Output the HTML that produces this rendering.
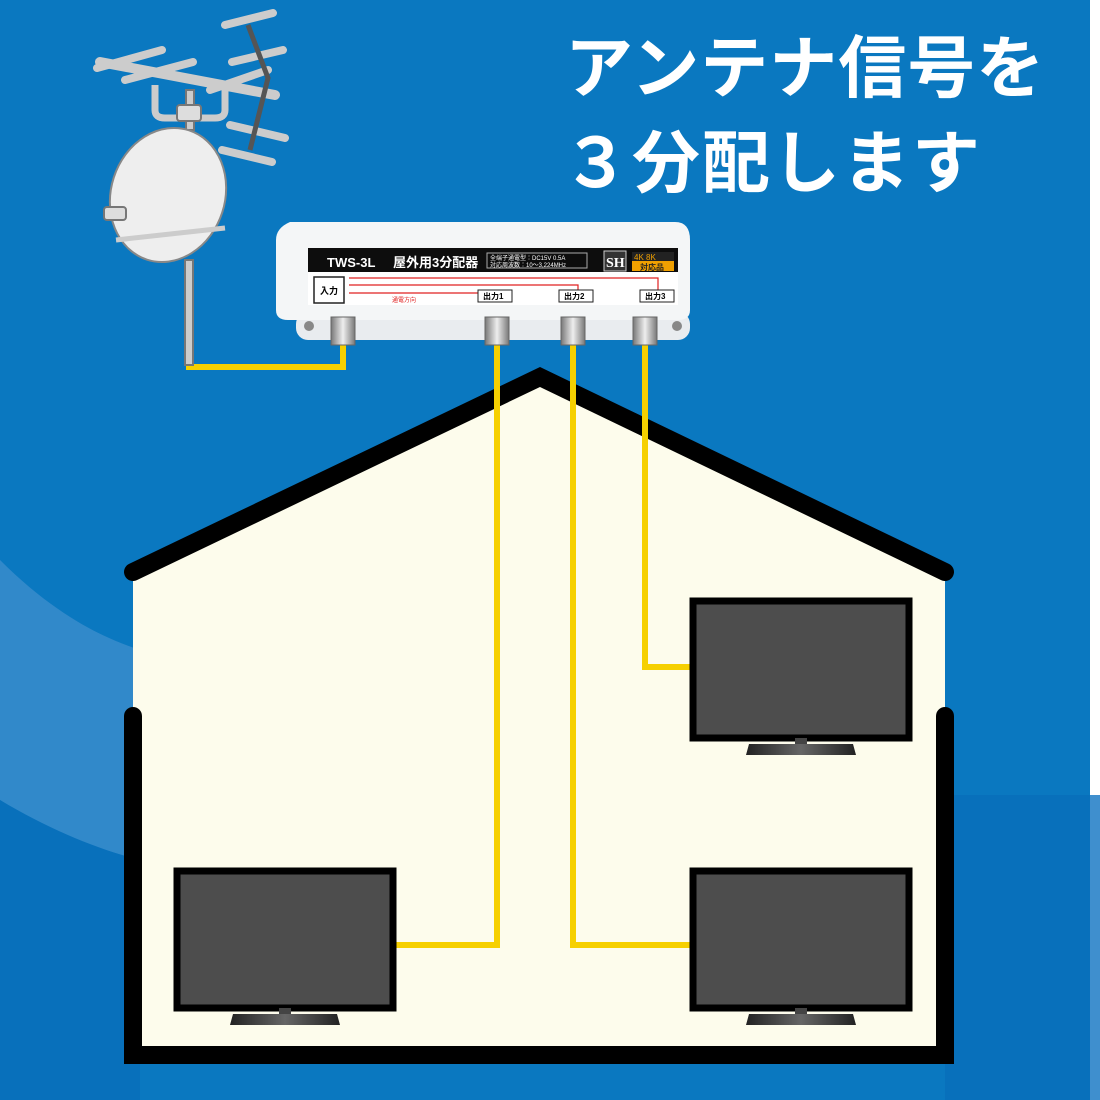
<!DOCTYPE html>
<html><head><meta charset="utf-8"><style>
html,body{margin:0;padding:0;width:1100px;height:1100px;overflow:hidden;background:#0a78c0}
</style></head><body>
<svg width="1100" height="1100" viewBox="0 0 1100 1100" xmlns="http://www.w3.org/2000/svg" style="display:block">
<defs>
<linearGradient id="base" x1="0" x2="1"><stop offset="0" stop-color="#222"/><stop offset="0.5" stop-color="#666"/><stop offset="1" stop-color="#222"/></linearGradient>
<linearGradient id="conn" x1="0" x2="1"><stop offset="0" stop-color="#777"/><stop offset="0.5" stop-color="#eee"/><stop offset="1" stop-color="#777"/></linearGradient>
</defs>
<rect width="1100" height="1100" fill="#0a78c0"/>
<path d="M0,560 C60,620 110,640 140,650 L140,860 C80,845 30,820 0,800 Z" fill="#3f8fce" opacity="0.75"/>
<path d="M0,800 C50,830 100,850 140,860 L140,1100 L0,1100 Z" fill="#0870bb"/>
<rect x="945" y="795" width="155" height="305" fill="#0870bb"/>
<rect x="1090" y="0" width="10" height="795" fill="#ffffff"/>
<rect x="1090" y="795" width="10" height="305" fill="#3f8fce"/>

<!-- title -->
<text x="565" y="92" font-family="'Liberation Sans','Noto Sans CJK JP',sans-serif" font-size="68" font-weight="bold" fill="#fff" letter-spacing="1">アンテナ信号を</text>
<text x="562" y="187" font-family="'Liberation Sans','Noto Sans CJK JP',sans-serif" font-size="68" font-weight="bold" fill="#fff" letter-spacing="2">３分配します</text>

<!-- house -->
<path d="M133,572 L540,377 L945,572 L945,1055 L133,1055 Z" fill="#fdfcec"/>
<polyline points="133,572 540,377 945,572" fill="none" stroke="#000" stroke-width="18" stroke-linecap="round" stroke-linejoin="miter"/>
<polyline points="133,716 133,1055 945,1055 945,716" fill="none" stroke="#000" stroke-width="18" stroke-linecap="round" stroke-linejoin="miter"/>

<!-- cables -->
<g fill="none" stroke="#f6d000" stroke-width="6">
<polyline points="189,280 189,367 343,367 343,335"/>
<polyline points="497,335 497,945 393,945"/>
<polyline points="573,335 573,945 692,945"/>
<polyline points="645,335 645,667 692,667"/>
</g>

<!-- TVs -->
<g id="tv">
<rect x="177" y="871" width="216" height="137" fill="#4d4d4d" stroke="#000" stroke-width="7"/>
<rect x="279" y="1008" width="12" height="12" fill="#444"/>
<path d="M233,1014 L337,1014 L340,1025 L230,1025 Z" fill="url(#base)"/>
</g>
<use href="#tv" transform="translate(516,0)"/>
<use href="#tv" transform="translate(516,-270)"/>

<!-- antenna -->
<g stroke="#777" stroke-width="2" fill="#ddd">
<rect x="185" y="260" width="8" height="105" fill="#ccc"/>
<rect x="186" y="90" width="8" height="40" fill="#ccc"/>
<path d="M155,85 L155,110 Q155,118 165,118 L215,118 Q225,118 225,110 L225,85" fill="none" stroke="#ccc" stroke-width="7"/>
<path d="M100,62 L275,95" stroke="#ccc" stroke-width="10" fill="none" stroke-linecap="round"/>
<path d="M97,68 L162,50 M125,80 L193,62 M210,90 L268,70 M225,25 L273,13 M232,62 L283,50 M230,125 L285,138 M222,150 L272,162" stroke="#ccc" stroke-width="8" fill="none" stroke-linecap="round"/>
<path d="M248,25 L268,78 L250,150" stroke="#555" stroke-width="5" fill="none"/>
<rect x="177" y="105" width="24" height="16" rx="3" fill="#ddd"/>
<ellipse cx="168" cy="195" rx="57" ry="68" transform="rotate(18 168 195)" fill="#eee" stroke="#888"/>
<path d="M116,240 L225,228" stroke="#ccc" stroke-width="5"/>
<rect x="104" y="207" width="22" height="13" rx="3" fill="#ddd"/>
</g>

<!-- splitter -->
<rect x="296" y="312" width="394" height="28" rx="12" fill="#e9ecef"/>
<circle cx="309" cy="326" r="5" fill="#888"/><circle cx="677" cy="326" r="5" fill="#888"/>
<path d="M290,222 L675,222 Q690,222 690,240 L690,310 Q690,320 678,320 L288,320 Q276,320 276,310 L276,240 Q276,228 290,222 Z" fill="#f4f6f7"/>
<rect x="308" y="248" width="370" height="24" fill="#0d0d0d"/>
<rect x="308" y="272" width="370" height="33" fill="#fff"/>
<text x="327" y="267" font-family="'Liberation Sans',sans-serif" font-weight="bold" font-size="13" fill="#fff">TWS-3L</text>
<text x="393" y="267" font-family="'Liberation Sans','Noto Sans CJK JP',sans-serif" font-weight="bold" font-size="13" fill="#fff">屋外用3分配器</text>
<rect x="487" y="253" width="100" height="15" fill="none" stroke="#aaa" stroke-width="1"/>
<text x="490" y="260" font-family="'Liberation Sans','Noto Sans CJK JP',sans-serif" font-size="6" fill="#fff">全端子通電型：DC15V 0.5A</text>
<text x="490" y="267" font-family="'Liberation Sans','Noto Sans CJK JP',sans-serif" font-size="6" fill="#fff">対応周波数：10～3,224MHz</text>
<rect x="604" y="251" width="22" height="20" fill="#333" stroke="#ccc"/>
<text x="606" y="267" font-family="'Liberation Serif',serif" font-weight="bold" font-size="14" fill="#fff">SH</text>
<rect x="632" y="252" width="42" height="19" fill="#f0a000"/>
<rect x="632" y="252" width="42" height="9" fill="#222"/>
<text x="634" y="260" font-family="'Liberation Sans',sans-serif" font-size="8" fill="#f0a000">4K 8K</text>
<text x="640" y="270" font-family="'Liberation Sans','Noto Sans CJK JP',sans-serif" font-size="8" font-weight="bold" fill="#222">対応品</text>
<rect x="314" y="277" width="30" height="26" fill="#fff" stroke="#222" stroke-width="1.5"/>
<text x="320" y="294" font-family="'Liberation Sans','Noto Sans CJK JP',sans-serif" font-weight="bold" font-size="9" fill="#000">入力</text>
<g stroke="#e02020" stroke-width="1.2" fill="none">
<polyline points="349,278 658,278 658,290"/>
<polyline points="349,285 578,285 578,290"/>
<polyline points="349,293 478,293"/>
</g>
<text x="392" y="302" font-family="'Liberation Sans','Noto Sans CJK JP',sans-serif" font-size="6" fill="#e02020">通電方向</text>
<g font-family="'Liberation Sans','Noto Sans CJK JP',sans-serif" font-weight="bold" font-size="8" fill="#000">
<rect x="478" y="290" width="34" height="12" fill="#fff" stroke="#222"/><text x="483" y="299">出力1</text>
<rect x="559" y="290" width="34" height="12" fill="#fff" stroke="#222"/><text x="564" y="299">出力2</text>
<rect x="640" y="290" width="34" height="12" fill="#fff" stroke="#222"/><text x="645" y="299">出力3</text>
</g>
<g fill="url(#conn)" stroke="#666" stroke-width="1">
<rect x="331" y="317" width="24" height="28"/>
<rect x="485" y="317" width="24" height="28"/>
<rect x="561" y="317" width="24" height="28"/>
<rect x="633" y="317" width="24" height="28"/>
</g>
</svg>
</body></html>
